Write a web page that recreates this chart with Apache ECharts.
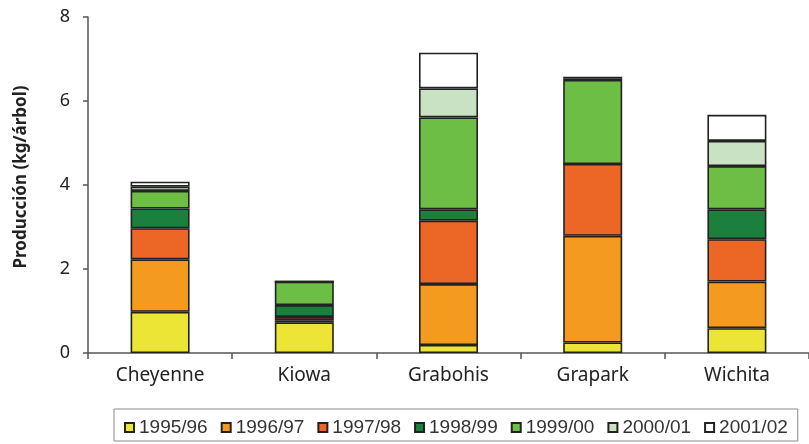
<!DOCTYPE html>
<html>
<head>
<meta charset="utf-8">
<script src="https://cdn.jsdelivr.net/npm/echarts@6/dist/echarts.min.js"></script>
<style>html,body{margin:0;padding:0;background:#fff;}#c{width:809px;height:444px;}</style>
</head>
<body>
<div id="c"></div>
<script>
const categories = ['Cheyenne', 'Kiowa', 'Grabohis', 'Grapark', 'Wichita'];
const seasons = ['1995/96', '1996/97', '1997/98', '1998/99', '1999/00', '2000/01', '2001/02'];
const s1995 = [0.98, 0.73, 0.19, 0.25, 0.59];
const s1996 = [1.25, 0.05, 1.45, 2.54, 1.11];
const s1997 = [0.74, 0.08, 1.51, 1.71, 1.01];
const s1998 = [0.47, 0.28, 0.27, 0.00, 0.71];
const s1999 = [0.42, 0.56, 2.19, 2.00, 1.03];
const s2000 = [0.10, 0.00, 0.69, 0.04, 0.60];
const s2001 = [0.12, 0.00, 0.85, 0.04, 0.62];
const yTicks = [0, 2, 4, 6, 8];

const values = [s1995, s1996, s1997, s1998, s1999, s2000, s2001];
const colors = ['#ECE535', '#F49A1E', '#EC6625', '#1B7F3D', '#6DBE45', '#C8E2C3', '#FFFFFF'];

const chart = echarts.init(document.getElementById('c'), null, {renderer: 'canvas'});
chart.setOption({
  animation: false,
  backgroundColor: '#fff',
  grid: {left: 88, right: -4, top: 17, bottom: 91, containLabel: false},
  xAxis: {
    type: 'category',
    data: categories,
    axisLine: {lineStyle: {color: '#555', width: 1.5}},
    axisTick: {show: true, length: 6, lineStyle: {color: '#555', width: 1.5}},
    axisLabel: {color: '#222', fontSize: 19, fontFamily: 'Noto Sans', margin: 13}
  },
  yAxis: {
    type: 'value',
    min: yTicks[0], max: yTicks[yTicks.length - 1], interval: 2,
    name: 'Producción (kg/árbol)',
    nameLocation: 'middle',
    nameGap: 58,
    nameRotate: 90,
    nameTextStyle: {fontWeight: 'bold', fontSize: 17, color: '#222', fontFamily: 'Noto Sans', padding: [0, 0, 0, 16]},
    axisLine: {show: true, lineStyle: {color: '#555', width: 1.5}},
    axisTick: {show: true, length: 5, lineStyle: {color: '#555', width: 1.5}},
    splitLine: {show: false},
    axisLabel: {color: '#222', fontSize: 18, fontFamily: 'Noto Sans', margin: 18}
  },
  legend: {
    left: 114, top: 409,
    padding: [9, 10, 4, 10],
    borderColor: '#888', borderWidth: 1,
    itemWidth: 9, itemHeight: 9, itemGap: 13,
    icon: 'rect',
    textStyle: {fontSize: 19, color: '#333', fontFamily: 'Liberation Sans'},
    data: seasons
  },
  series: seasons.map((s, i) => ({
    name: s,
    type: 'bar',
    stack: 'total',
    barWidth: 59,
    data: values[i],
    itemStyle: {color: colors[i], borderColor: '#222', borderWidth: 1.6}
  }))
});
</script>
</body>
</html>
